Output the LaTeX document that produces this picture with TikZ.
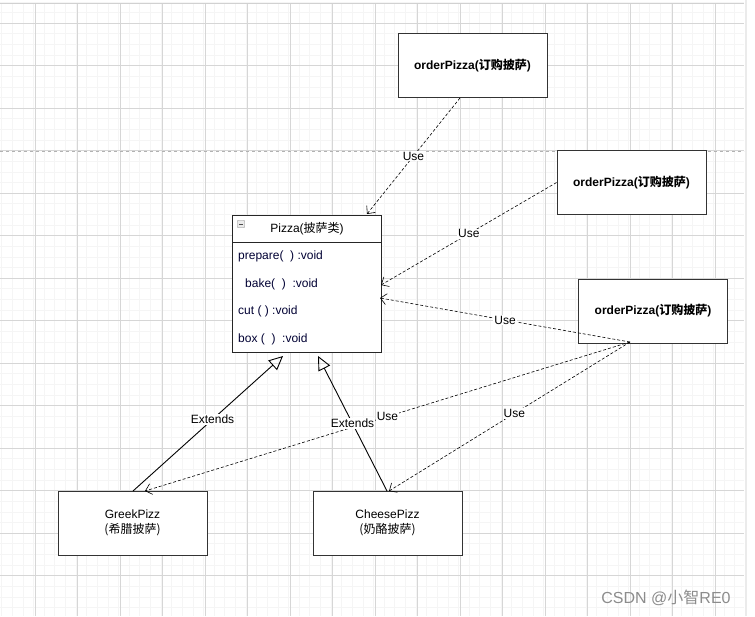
\documentclass[tikz,border=0pt]{standalone}
\usepackage{fontspec}
\setmainfont{Liberation Sans}
\newfontfamily\cjk{Noto Sans CJK SC}
\usetikzlibrary{arrows.meta}
\begin{document}
\begin{tikzpicture}[x=1pt,y=-1pt,font=\fontsize{12}{15}\selectfont,
  box/.style={draw=black!80,line width=0.9pt,fill=white,minimum width=149pt,minimum height=64pt,inner sep=0pt},
  use/.style={densely dashed,line width=0.6pt,-{Straight Barb[length=6pt,width=11pt]}},
  ext/.style={line width=0.9pt,-{Triangle[open,length=14pt,width=13pt]}},
  lbl/.style={fill=white,inner sep=1pt},
  row/.style={anchor=west,inner sep=0pt,text=blue!20!black}]
\useasboundingbox (0,0) rectangle (755,616);
\fill[white] (0,0) rectangle (755,616);
\foreach \i in {0,...,70} {\draw[black!4,line width=0.5pt] ({1.5+\i*10.625},3) -- ({1.5+\i*10.625},616);}
\foreach \i in {0,...,58} {\draw[black!4,line width=0.5pt] (0,{1.75+\i*10.625}) -- (744,{1.75+\i*10.625});}
\foreach \i in {0,...,17} {\draw[black!16,line width=0.6pt] ({35+\i*42.5},3) -- ({35+\i*42.5},616);}
\foreach \i in {0,...,14} {\draw[black!16,line width=0.6pt] (0,{23+\i*42.5}) -- (744,{23+\i*42.5});}
\draw[black!18,line width=0.8pt] (0,3) -- (744,3);
\draw[black!8,line width=2pt] (746,0) -- (746,616);
\draw[black!30,dashed,line width=0.8pt] (0,151) -- (744,151);

\node[box] (o1) at (472.5,65.5) {\textbf{orderPizza({\cjk 订购披萨})}};
\node[box] (o2) at (631.5,182.5) {\textbf{orderPizza({\cjk 订购披萨})}};
\node[box] (o3) at (653,311) {\textbf{orderPizza({\cjk 订购披萨})}};
\coordinate (o3s) at (630,342);

\node[draw=black!85,line width=0.9pt,fill=white,minimum width=149pt,minimum height=137pt,inner sep=0pt] (p) at (306.5,283.5) {};
\draw[black!85,line width=0.9pt] (232,242) -- (381,242);
\node[draw=black!50,fill=black!8,minimum size=7pt,inner sep=0pt,rounded corners=0.5pt] (ic) at (241,224) {};
\draw[black!70] (239,224) -- (243,224);
\node (ph) at (307,228.5) {Pizza({\cjk 披萨类})};
\node[row] (r1) at (238,256) {prepare(\ \ ) :void};
\node[row] (r2) at (245,284) {bake(\ \ )\ \ :void};
\node[row] (r3) at (238,311) {cut ( ) :void};
\node[row] (r4) at (238,339) {box (\ \ )\ \ :void};
\coordinate (pt1) at (367,214);
\coordinate (pt2) at (381,285);
\coordinate (pt3) at (380,298);
\coordinate (pe1) at (283,356);
\coordinate (pe2) at (318,356);

\node[box,align=center] (g) at (132.5,523) {GreekPizz\\{\cjk (希腊披萨)}};
\node[box,align=center] (c) at (387.5,523) {CheesePizz\\{\cjk (奶酪披萨)}};
\coordinate (gt) at (145,491);
\coordinate (ct) at (389,491);
\coordinate (gb) at (133,491);
\coordinate (cb) at (387,491);

\draw[use] (460,98) -- node[lbl,pos=0.5] {Use} (pt1);
\draw[use] (o2.west) -- node[lbl,pos=0.5] {Use} (pt2);
\draw[use] (o3s) -- node[lbl,pos=0.5] {Use} (pt3);
\draw[use] (o3s) -- node[lbl,pos=0.5] {Use} (gt);
\draw[use] (o3s) -- node[lbl,pos=0.48] {Use} (ct);
\draw[ext] (gb) -- node[lbl,pos=0.53] {Extends} (pe1);
\draw[ext] (cb) -- node[lbl,pos=0.5] {Extends} (pe2);

\node[text=black!45,font=\fontsize{16}{18}\selectfont] (wm) at (666,598) {CSDN @{\cjk 小智}RE0};
\end{tikzpicture}
\end{document}
